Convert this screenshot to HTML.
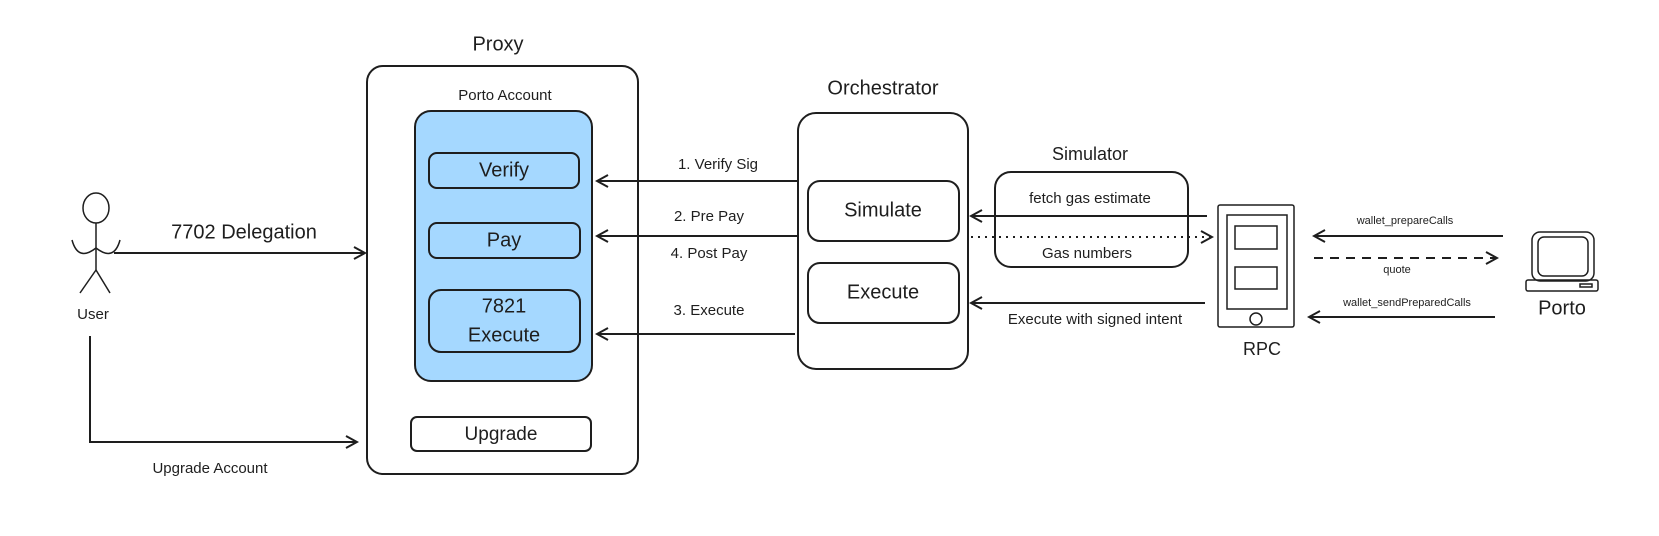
<!DOCTYPE html>
<html><head><meta charset="utf-8"><style>
html,body{margin:0;padding:0;background:#fff;}
svg{display:block;}
text{font-family:"Liberation Sans",sans-serif;fill:#1e1e1e;text-anchor:middle;dominant-baseline:middle;}
</style></head><body>
<svg width="1659" height="536" viewBox="0 0 1659 536" xmlns="http://www.w3.org/2000/svg">
<defs>
<marker id="ah" markerWidth="14" markerHeight="14" refX="12" refY="7" orient="auto" markerUnits="userSpaceOnUse">
<path d="M1,1 L12,7 L1,13" fill="none" stroke="#1e1e1e" stroke-width="2"/>
</marker>
</defs>
<g fill="none" stroke="#1e1e1e" stroke-width="2">
<!-- Proxy -->
<rect x="367" y="66" width="271" height="408" rx="16"/>
<rect x="415" y="111" width="177" height="270" rx="16" fill="#a5d8ff"/>
<rect x="429" y="153" width="150" height="35" rx="8" fill="#a5d8ff"/>
<rect x="429" y="223" width="151" height="35" rx="8" fill="#a5d8ff"/>
<rect x="429" y="290" width="151" height="62" rx="12" fill="#a5d8ff"/>
<rect x="411" y="417" width="180" height="34" rx="6" fill="#fff"/>
<!-- User -->
<g stroke-width="1.5">
<ellipse cx="96" cy="208" rx="13" ry="15"/>
<line x1="96" y1="223" x2="96" y2="270"/>
<path d="M72,240 Q78,262 96,248 Q114,262 120,240"/>
<line x1="96" y1="270" x2="80" y2="293"/>
<line x1="96" y1="270" x2="110" y2="293"/>
</g>
<line x1="114" y1="253" x2="365" y2="253" marker-end="url(#ah)"/>
<polyline points="90,336 90,442 357,442" marker-end="url(#ah)"/>
<!-- Orchestrator -->
<rect x="798" y="113" width="170" height="256" rx="18"/>
<rect x="808" y="181" width="151" height="60" rx="12"/>
<rect x="808" y="263" width="151" height="60" rx="12"/>
<line x1="798" y1="181" x2="597" y2="181" marker-end="url(#ah)"/>
<line x1="798" y1="236" x2="597" y2="236" marker-end="url(#ah)"/>
<line x1="795" y1="334" x2="597" y2="334" marker-end="url(#ah)"/>
<!-- Simulator -->
<rect x="995" y="172" width="193" height="95" rx="16"/>
<line x1="1207" y1="216" x2="971" y2="216" marker-end="url(#ah)"/>
<line x1="971" y1="237" x2="1212" y2="237" stroke-dasharray="2 5" marker-end="url(#ah)"/>
<line x1="1205" y1="303" x2="971" y2="303" marker-end="url(#ah)"/>
<!-- RPC phone -->
<g stroke-width="1.5">
<rect x="1218" y="205" width="76" height="122" rx="2"/>
<rect x="1227" y="215" width="60" height="94"/>
<rect x="1235" y="226" width="42" height="23"/>
<rect x="1235" y="267" width="42" height="22"/>
<circle cx="1256" cy="319" r="6"/>
</g>
<line x1="1503" y1="236" x2="1314" y2="236" marker-end="url(#ah)"/>
<line x1="1314" y1="258" x2="1497" y2="258" stroke-dasharray="9 7" marker-end="url(#ah)"/>
<line x1="1495" y1="317" x2="1309" y2="317" marker-end="url(#ah)"/>
<!-- Porto computer -->
<g stroke-width="1.5">
<rect x="1532" y="232" width="62" height="49" rx="8"/>
<rect x="1538" y="237" width="50" height="39" rx="6"/>
<rect x="1526" y="280" width="72" height="11" rx="2"/>
<rect x="1580" y="284" width="12" height="3"/>
</g>
</g>
<text x="498" y="45" font-size="20">Proxy</text>
<text x="505" y="96" font-size="15">Porto Account</text>
<text x="504" y="171" font-size="20">Verify</text>
<text x="504" y="241" font-size="20">Pay</text>
<text x="504" y="307" font-size="20">7821</text>
<text x="504" y="336" font-size="20">Execute</text>
<text x="501" y="435" font-size="19">Upgrade</text>
<text x="93" y="315" font-size="15">User</text>
<text x="244" y="233" font-size="20">7702 Delegation</text>
<text x="210" y="469" font-size="15">Upgrade Account</text>
<text x="883" y="89" font-size="20">Orchestrator</text>
<text x="883" y="211" font-size="20">Simulate</text>
<text x="883" y="293" font-size="20">Execute</text>
<text x="718" y="165" font-size="15">1. Verify Sig</text>
<text x="709" y="217" font-size="15">2. Pre Pay</text>
<text x="709" y="254" font-size="15">4. Post Pay</text>
<text x="709" y="311" font-size="15">3. Execute</text>
<text x="1090" y="155" font-size="18">Simulator</text>
<text x="1090" y="199" font-size="15">fetch gas estimate</text>
<text x="1087" y="254" font-size="15">Gas numbers</text>
<text x="1095" y="320" font-size="15">Execute with signed intent</text>
<text x="1262" y="350" font-size="18">RPC</text>
<text x="1405" y="221" font-size="11">wallet_prepareCalls</text>
<text x="1397" y="270" font-size="11">quote</text>
<text x="1407" y="303" font-size="11">wallet_sendPreparedCalls</text>
<text x="1562" y="309" font-size="20">Porto</text>
</svg>
</body></html>
